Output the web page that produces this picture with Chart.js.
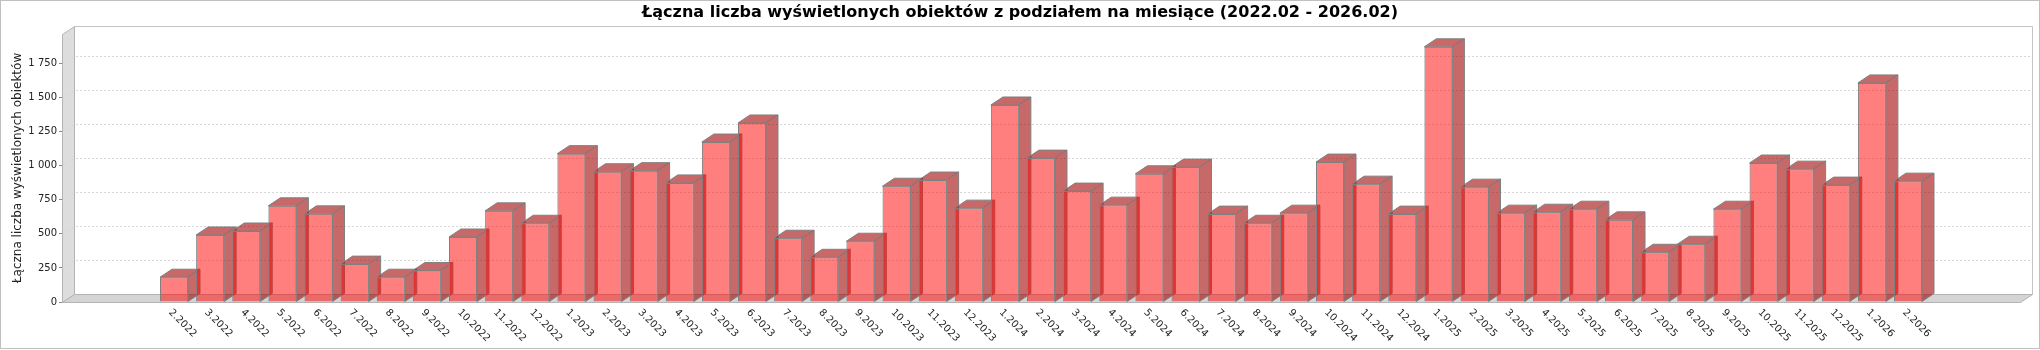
<!DOCTYPE html>
<html lang="pl">
<head>
<meta charset="utf-8">
<title>Wyświetlenia obiektów</title>
<script src="https://cdn.jsdelivr.net/npm/chart.js@4.4.1/dist/chart.umd.min.js"></script>
<style>
  html, body { margin: 0; padding: 0; background: #fff; }
</style>
</head>
<body>
<canvas id="chart" width="2040" height="350"></canvas>
<script>
var chartTitle = 'Łączna liczba wyświetlonych obiektów z podziałem na miesiące (2022.02 - 2026.02)';
var axisTitle = 'Łączna liczba wyświetlonych obiektów';

var months = [
  '2.2022', '3.2022', '4.2022', '5.2022', '6.2022', '7.2022', '8.2022', '9.2022', '10.2022', '11.2022', '12.2022',
  '1.2023', '2.2023', '3.2023', '4.2023', '5.2023', '6.2023', '7.2023', '8.2023', '9.2023', '10.2023', '11.2023', '12.2023',
  '1.2024', '2.2024', '3.2024', '4.2024', '5.2024', '6.2024', '7.2024', '8.2024', '9.2024', '10.2024', '11.2024', '12.2024',
  '1.2025', '2.2025', '3.2025', '4.2025', '5.2025', '6.2025', '7.2025', '8.2025', '9.2025', '10.2025', '11.2025', '12.2025',
  '1.2026', '2.2026'
];
var views = [
  182, 492, 521, 706, 647, 278, 182, 231, 477, 669, 578,
  1089, 956, 964, 874, 1174, 1314, 468, 328, 446, 850, 895, 689,
  1446, 1056, 814, 711, 941, 990, 645, 578, 652, 1027, 865, 645,
  1873, 843, 652, 659, 681, 603, 365, 424, 681, 1020, 975, 858,
  1608, 887
];
var yTicks = [0, 250, 500, 750, 1000, 1250, 1500, 1750];
var yTickLabels = ['0', '250', '500', '750', '1\u00a0000', '1\u00a0250', '1\u00a0500', '1\u00a0750'];

// depth of the 3D effect (px)
var dx = 12, dy = 8;

function poly(ctx, pts, fill, stroke) {
  ctx.beginPath();
  ctx.moveTo(pts[0][0], pts[0][1]);
  for (var i = 1; i < pts.length; i++) ctx.lineTo(pts[i][0], pts[i][1]);
  ctx.closePath();
  if (fill) { ctx.fillStyle = fill; ctx.fill(); }
  if (stroke) { ctx.strokeStyle = stroke; ctx.stroke(); }
}

var box3d = {
  id: 'box3d',
  beforeDatasetsDraw: function (chart) {
    var ctx = chart.ctx, a = chart.chartArea, ys = chart.scales.y;
    var L = a.left + 0.5, R = a.right + 0.5, T = a.top + 0.5, B = a.bottom + 0.5;
    ctx.save();
    ctx.lineWidth = 1;

    // back wall
    poly(ctx, [[L + dx, T - dy], [R + dx, T - dy], [R + dx, B - dy], [L + dx, B - dy]], '#ffffff', '#c4c4c4');
    // left wall and floor
    poly(ctx, [[L, T], [L + dx, T - dy], [L + dx, B - dy], [L, B]], '#dddddd', '#b4b4b4');
    poly(ctx, [[L, B], [L + dx, B - dy], [R + dx, B - dy], [R, B]], '#d4d4d4', '#b4b4b4');

    // grid lines on the walls
    ctx.setLineDash([2, 2]);
    ctx.strokeStyle = '#d6d6d6';
    ys.ticks.forEach(function (t) {
      if (t.value === 0) return;
      var py = Math.round(ys.getPixelForValue(t.value)) + 0.5;
      ctx.beginPath();
      ctx.moveTo(L, py);
      ctx.lineTo(L + dx, py - dy);
      ctx.lineTo(R + dx, py - dy);
      ctx.stroke();
    });
    ctx.setLineDash([]);

    // right side and top face of every bar
    chart.getDatasetMeta(0).data.forEach(function (bar) {
      var p = bar.getProps(['x', 'y', 'base', 'width'], true);
      var l = p.x - p.width / 2, r = p.x + p.width / 2;
      poly(ctx, [[r, p.y], [r + dx, p.y - dy], [r + dx, p.base - dy], [r, p.base]], 'rgba(160,0,0,0.59)', '#808080');
      poly(ctx, [[l, p.y], [l + dx, p.y - dy], [r + dx, p.y - dy], [r, p.y]], 'rgba(160,0,0,0.59)', '#808080');
    });
    ctx.restore();
  },
  afterDraw: function (chart) {
    var ctx = chart.ctx, xs = chart.scales.x, a = chart.chartArea;
    ctx.save();

    // title
    ctx.fillStyle = '#000';
    ctx.font = 'bold 16px "DejaVu Sans"';
    ctx.textAlign = 'center';
    ctx.textBaseline = 'middle';
    ctx.fillText(chartTitle, chart.width / 2, 12.5);

    // month labels, turned 45 degrees
    ctx.font = '10px "DejaVu Sans"';
    ctx.fillStyle = '#222';
    ctx.textAlign = 'left';
    months.forEach(function (m, i) {
      var px = xs.getPixelForValue(i);
      ctx.save();
      ctx.translate(px - 4, a.bottom + 9);
      ctx.rotate(Math.PI / 4);
      ctx.fillText(m, 0, 0);
      ctx.restore();
    });

    // frame around the whole chart
    ctx.strokeStyle = '#c0c0c0';
    ctx.lineWidth = 1;
    ctx.strokeRect(0.5, 0.5, chart.width - 1, chart.height - 2);
    ctx.restore();
  }
};

var ctx = document.getElementById('chart').getContext('2d');
var myChart = new Chart(ctx, {
  type: 'bar',
  data: {
    datasets: [{
      label: axisTitle,
      data: views.map(function (v, i) { return { x: i, y: v }; }),
      backgroundColor: 'rgba(255,0,0,0.5)',
      borderColor: '#808080',
      borderWidth: 1,
      categoryPercentage: 0.775,
      barPercentage: 1
    }]
  },
  plugins: [box3d],
  options: {
    responsive: false,
    animation: false,
    devicePixelRatio: 1,
    layout: { padding: { left: 0, top: 34, right: 20, bottom: 48 } },
    plugins: {
      legend: { display: false },
      tooltip: { enabled: false },
      title: { display: false }
    },
    scales: {
      x: {
        type: 'linear',
        offset: false,
        min: -3.1,
        max: 51.1,
        display: false
      },
      y: {
        min: 0,
        max: 1967,
        afterBuildTicks: function (scale) {
          scale.ticks = yTicks.map(function (v) { return { value: v }; });
        },
        afterFit: function (scale) { scale.width = 62; },
        border: { display: false },
        grid: { drawOnChartArea: false, drawTicks: true, tickLength: 3, color: '#888888' },
        ticks: {
          padding: 2,
          color: '#222',
          font: { family: 'DejaVu Sans', size: 10 },
          callback: function (value, index) { return yTickLabels[index]; }
        },
        title: {
          display: true,
          text: axisTitle,
          color: '#222',
          font: { family: 'DejaVu Sans', size: 12 },
          padding: { top: 11, bottom: 0 }
        }
      }
    }
  }
});
</script>
</body>
</html>
